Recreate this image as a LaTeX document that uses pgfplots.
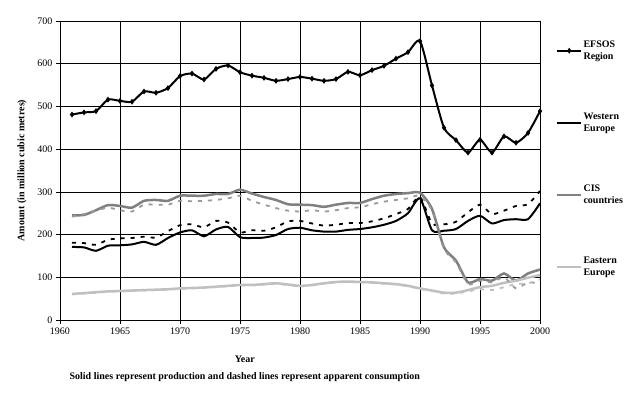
\documentclass[border=0pt]{standalone}
\usepackage{fontspec}
\setmainfont{Liberation Serif}
\usepackage{pgfplots}
\usepackage{pgfplotstable}
\pgfplotsset{compat=1.18}
\definecolor{cisgray}{HTML}{808080}
\definecolor{cisdash}{HTML}{999999}
\definecolor{eegray}{HTML}{C0C0C0}
\pgfplotstableread{
year efsos we wec cis cisc ee eec
1961 481 171 181 245 242 61 60
1962 486 170 180 246 248 63 62
1963 489 162 176 257 256 65 64
1964 516 174 188 269 263 67 66
1965 513 175 191 267 257 68 67
1966 511 177 192 263 254 69 68
1967 535 183 195 279 270 70 69
1968 532 176 193 281 270 71 70
1969 543 192 208 279 270 72 71
1970 571 205 222 291 279 74 73
1971 577 210 224 291 278 75 74
1972 563 196 217 291 279 76 75
1973 588 212 232 295 281 78 77
1974 596 218 228 295 285 80 79
1975 580 194 205 305 291 82 81
1976 572 192 210 296 279 82 81
1977 567 193 209 288 270 84 83
1978 560 199 217 281 262 86 85
1979 564 213 231 271 256 83 82
1980 569 216 232 270 254 80 79
1981 565 210 226 269 257 82 81
1982 560 207 221 265 254 86 85
1983 564 207 223 270 257 89 88
1984 581 211 227 274 262 90 89
1985 573 213 227 274 264 89 88
1986 585 217 231 283 271 88 87
1987 595 223 238 291 277 86 85
1988 612 232 248 295 281 84 83
1989 627 250 260 297 285 80 79
1990 653 285 288 298 291 74 73
1991 549 210 226 260 256 69 68
1992 450 209 224 170 166 64 62
1993 421 213 230 139 135 64 62
1994 392 232 252 88 84 70 67
1995 422 244 270 96 92 77 72
1996 392 226 248 92 88 80 70
1997 430 234 256 109 100 87 77
1998 415 236 267 92 74 92 84
1999 438 236 271 109 88 99 86
2000 489 273 302 118 85 105 95
}\data
\begin{document}
\begin{tikzpicture}
\fill[white] (0,0) rectangle (642pt,394pt);
\useasboundingbox (0,0) rectangle (642pt,394pt);
\begin{axis}[
  at={(60pt,74pt)}, anchor=south west,
  scale only axis, width=480pt, height=299pt,
  xmin=1960, xmax=2000, ymin=0, ymax=700,
  xtick={1960,1965,...,2000}, ytick={0,100,...,700},
  grid=major, major grid style={black, line width=0.7pt},
  axis line style={black, line width=0.7pt},
  tick pos=left, tick align=outside, major tick length=4pt,
  tick style={black, line width=0.7pt},
  every tick label/.append style={font=\fontsize{10}{11}\selectfont},
  /pgf/number format/assume math mode=true,
  xticklabel style={/pgf/number format/1000 sep=},
  xlabel={Year},
  xlabel style={at={(axis description cs:0.385,-0.13)}, anchor=center, font=\fontsize{10}{11}\bfseries},
  ylabel={Amount (in million cubic metres)},
  ylabel style={at={(axis description cs:-0.079,0.5)}, anchor=center, font=\fontsize{10}{11}\bfseries},
  legend style={at={(axis description cs:1.033,0.935)}, anchor=north west, draw=none, fill=none,
    inner sep=0pt, row sep=52pt, font=\fontsize{10}{12}\bfseries,
    nodes={align=left, inner xsep=1pt, inner ysep=0pt}},
  legend cell align=left,
  legend image code/.code={\draw[#1, mark repeat=2, mark phase=2] plot coordinates {(0pt,0pt) (12pt,0pt) (24pt,0pt)};},
  clip=false,
]
\addplot[black, line width=2pt, smooth, tension=0.4, mark=diamond*, mark size=1.3pt, mark options={solid}] table[x=year, y=efsos] {\data};
\addlegendentry{EFSOS\\Region}
\addplot[black, line width=2pt, smooth, tension=0.4] table[x=year, y=we] {\data};
\addlegendentry{Western\\Europe}
\addplot[cisgray, line width=2.5pt, smooth, tension=0.4] table[x=year, y=cis] {\data};
\addlegendentry{CIS\\countries}
\addplot[eegray, line width=2.5pt, smooth, tension=0.4] table[x=year, y=ee] {\data};
\addlegendentry{Eastern\\Europe}
\addplot[forget plot, black, line width=1.8pt, smooth, tension=0.4, dash pattern=on 4pt off 6pt] table[x=year, y=wec] {\data};
\addplot[forget plot, cisdash, line width=1.8pt, smooth, tension=0.4, dash pattern=on 4pt off 6pt] table[x=year, y=cisc] {\data};
\addplot[forget plot, eegray, line width=1.8pt, smooth, tension=0.4, dash pattern=on 4pt off 6pt] table[x=year, y=eec] {\data};
\node[font=\fontsize{10}{11}\bfseries, anchor=center] at (axis description cs:0.385,-0.19) {Solid lines represent production and dashed lines represent apparent consumption};
\end{axis}
\end{tikzpicture}
\end{document}
